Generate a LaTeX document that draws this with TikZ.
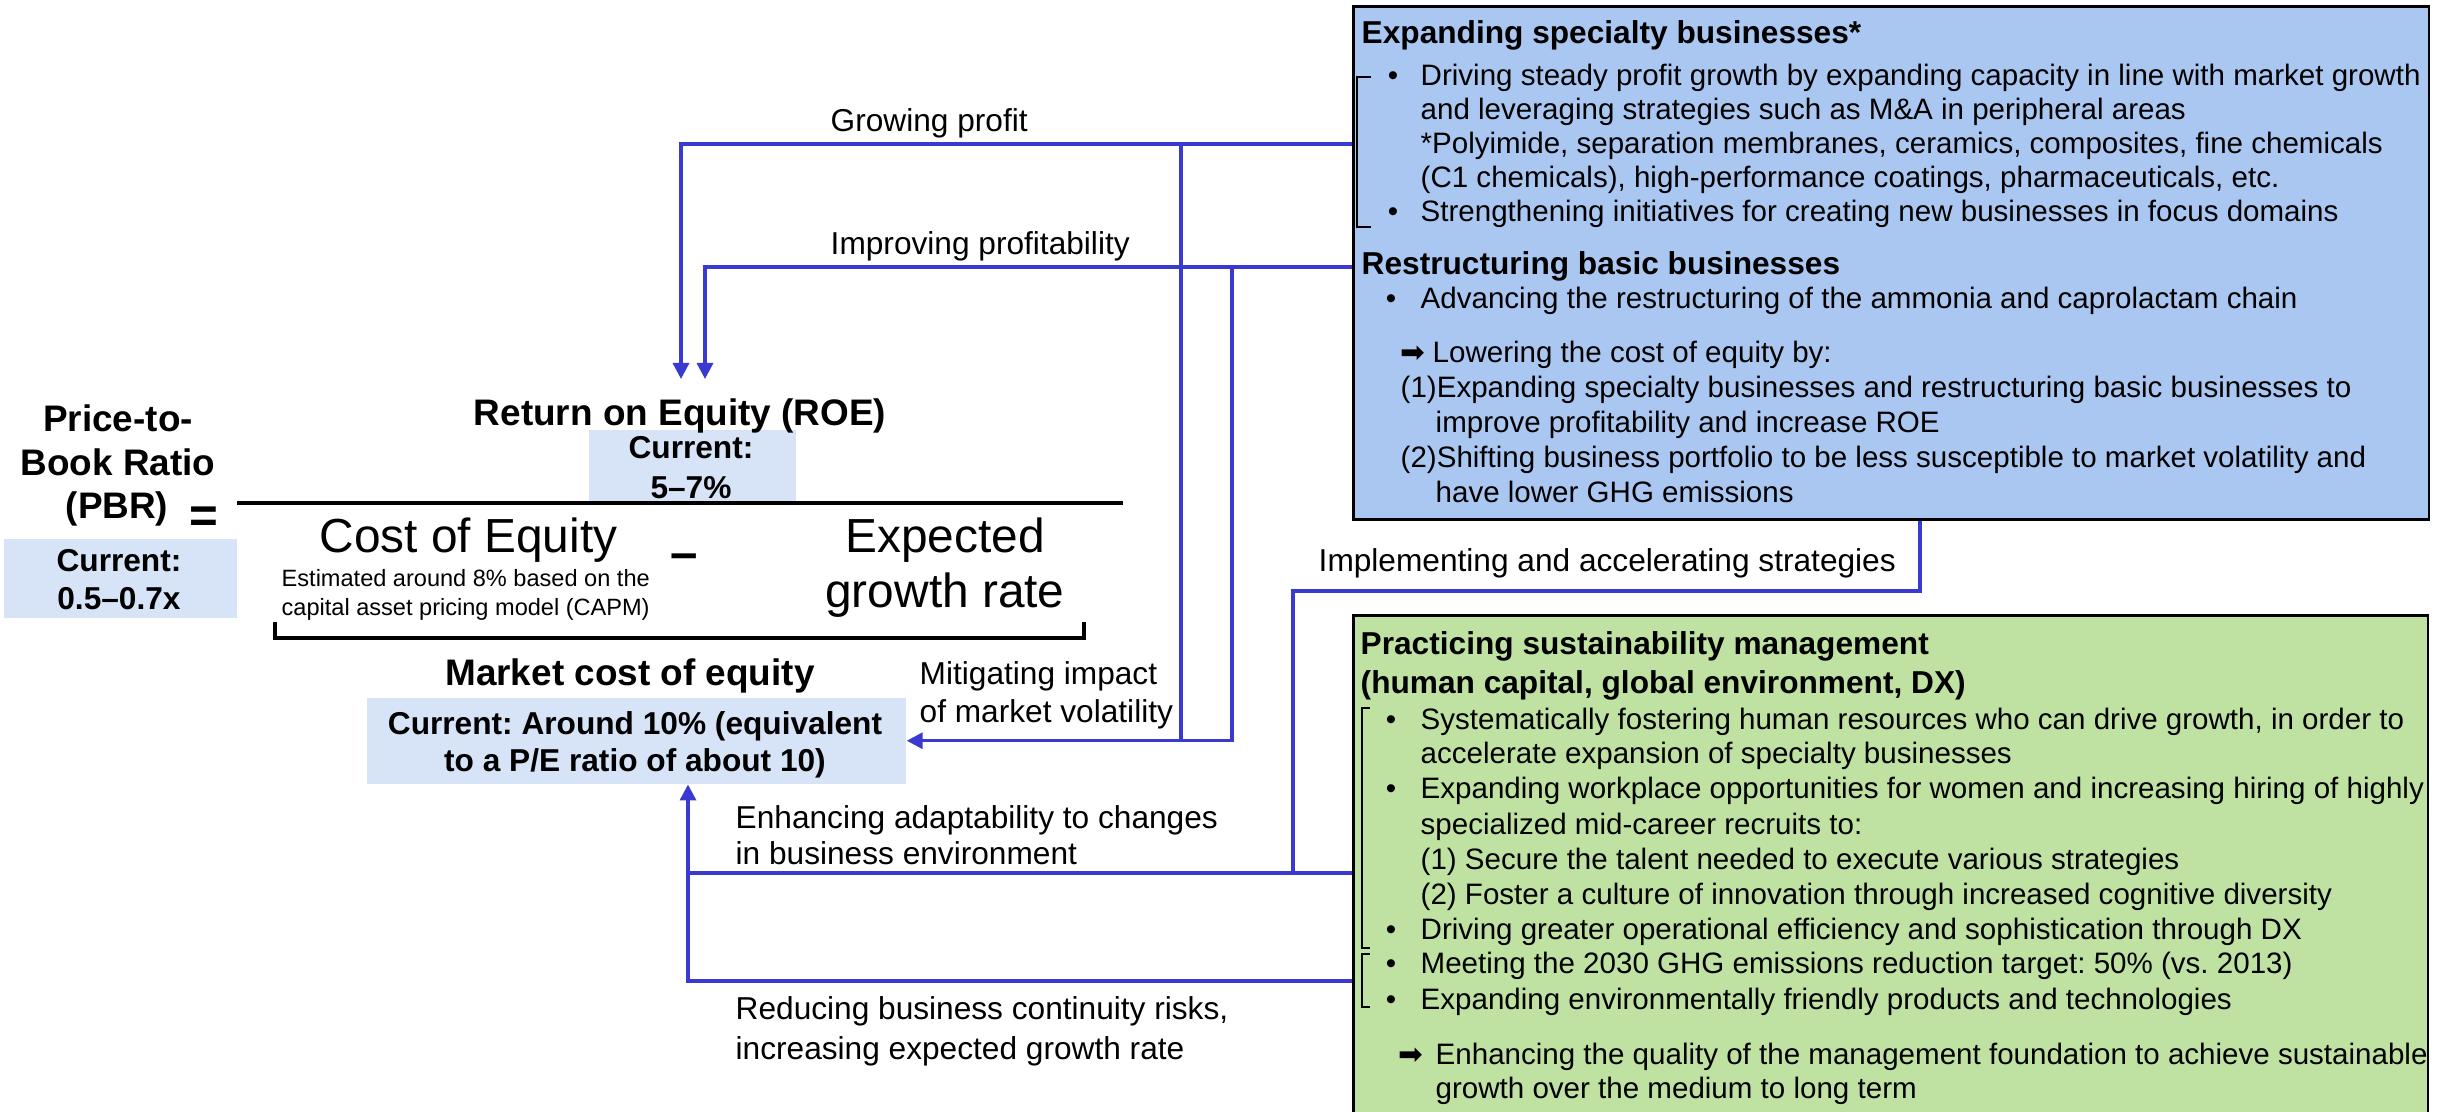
\documentclass[tikz,border=0pt]{standalone}
\usepackage{fontspec}
\setmainfont{Liberation Sans}
\newfontfamily\dejavu{DejaVu Sans}
\usetikzlibrary{arrows.meta,calc}
\definecolor{conncol}{RGB}{58,58,208}
\definecolor{boxblue}{RGB}{170,199,242}
\definecolor{boxgreen}{RGB}{191,226,163}
\definecolor{valblue}{RGB}{215,227,246}
\frenchspacing
\begin{document}
\begin{tikzpicture}[x=0.01cm,y=-0.01cm,
  body/.style={anchor=base west, inner sep=0pt, font=\fontsize{8.4}{9.8}\selectfont},
  ttl/.style={anchor=base west, inner sep=0pt, font=\fontsize{9}{10.8}\selectfont\bfseries},
  lbl/.style={anchor=base west, inner sep=0pt, font=\fontsize{9}{10.8}\selectfont},
  bigtxt/.style={inner sep=0pt, font=\fontsize{13.6}{16}\selectfont},
  smalltxt/.style={anchor=base west, inner sep=0pt, font=\fontsize{6.7}{8}\selectfont},
  headtxt/.style={anchor=base, inner sep=0pt, font=\fontsize{10.5}{12.5}\selectfont\bfseries},
  valtxt/.style={anchor=base, inner sep=0pt, font=\fontsize{9}{10.8}\selectfont\bfseries},
  valbox/.style={fill=valblue, draw=none, anchor=north west, inner sep=0pt},
  bigbox/.style={draw=black, line width=0.8pt, anchor=north west, inner sep=0pt},
  connline/.style={draw=conncol, line width=0.95pt},
  arr/.style={connline, -{Triangle[length=0.16cm,width=0.16cm]}},
  brk/.style={draw=black, line width=0.5pt},
  dotb/.style={anchor=base, inner sep=0pt, font=\fontsize{8.4}{9.8}\selectfont},
  arrglyph/.style={anchor=base west, inner sep=0pt, font=\fontsize{8.4}{9.8}\dejavu},
]
\useasboundingbox (0,0) rectangle (2438,1112);

% ---------- boxes ----------
\node[bigbox, fill=boxblue, minimum width=10.75cm, minimum height=5.13cm] (bluebox) at (1352,5) {};
\node[bigbox, fill=boxgreen, minimum width=10.74cm, minimum height=5.2cm] (greenbox) at (1352,614) {};
\node[valbox, minimum width=2.33cm, minimum height=0.79cm] (pbrbox) at (3,538) {};
\node[valbox, minimum width=2.07cm, minimum height=0.72cm] (roebox) at (588,429) {};
\node[valbox, minimum width=5.39cm, minimum height=0.86cm] (mkt) at (366,697) {};

% ---------- blue box text ----------
\node[ttl] (b1) at (1361,44) {Expanding specialty businesses*};
\draw[brk] (1371,77) -- (1357,77) -- (1357,227) -- (1371,227);
\node[dotb] (bd1) at (1393,85) {•};
\node[body] (b2) at (1420,85) {Driving steady profit growth by expanding capacity in line with market growth};
\node[body] (b3) at (1420,119) {and leveraging strategies such as M\&A in peripheral areas};
\node[body] (b4) at (1420,153) {*Polyimide, separation membranes, ceramics, composites, fine chemicals};
\node[body] (b5) at (1420,187) {(C1 chemicals), high-performance coatings, pharmaceuticals, etc.};
\node[dotb] (bd2) at (1393,221) {•};
\node[body] (b6) at (1420,221) {Strengthening initiatives for creating new businesses in focus domains};
\node[ttl] (b7) at (1361,274) {Restructuring basic businesses};
\node[dotb] (bd3) at (1391,308) {•};
\node[body] (b8) at (1420,308) {Advancing the restructuring of the ammonia and caprolactam chain};
\node[arrglyph] (ba1) at (1400,362) {➡};
\node[body] (b9) at (1432,362) {Lowering the cost of equity by:};
\node[body] (b10) at (1400,397) {(1)Expanding specialty businesses and restructuring basic businesses to};
\node[body] (b11) at (1435,432) {improve profitability and increase ROE};
\node[body] (b12) at (1400,467) {(2)Shifting business portfolio to be less susceptible to market volatility and};
\node[body] (b13) at (1435,502) {have lower GHG emissions};

% ---------- green box text ----------
\node[ttl] (g1) at (1360,654) {Practicing sustainability management};
\node[ttl] (g2) at (1360,693) {(human capital, global environment, DX)};
\draw[brk] (1370,708) -- (1362,708) -- (1362,948) -- (1370,948);
\draw[brk] (1370,954) -- (1362,954) -- (1362,1007) -- (1370,1007);
\node[dotb] (gd1) at (1391,729) {•};
\node[body] (g3) at (1420,729) {Systematically fostering human resources who can drive growth, in order to};
\node[body] (g4) at (1420,763) {accelerate expansion of specialty businesses};
\node[dotb] (gd2) at (1391,798) {•};
\node[body] (g5) at (1420,798) {Expanding workplace opportunities for women and increasing hiring of highly};
\node[body] (g6) at (1420,834) {specialized mid-career recruits to:};
\node[body] (g7) at (1420,869) {(1) Secure the talent needed to execute various strategies};
\node[body] (g8) at (1420,904) {(2) Foster a culture of innovation through increased cognitive diversity};
\node[dotb] (gd3) at (1391,939) {•};
\node[body] (g9) at (1420,939) {Driving greater operational efficiency and sophistication through DX};
\node[dotb] (gd4) at (1391,973) {•};
\node[body] (g10) at (1420,973) {Meeting the 2030 GHG emissions reduction target: 50\% (vs. 2013)};
\node[dotb] (gd5) at (1391,1009) {•};
\node[body] (g11) at (1420,1009) {Expanding environmentally friendly products and technologies};
\node[arrglyph] (ga1) at (1398,1064) {➡};
\node[body] (g12) at (1435,1064) {Enhancing the quality of the management foundation to achieve sustainable};
\node[body] (g13) at (1435,1098) {growth over the medium to long term};

% ---------- formula ----------
\node[headtxt] (pbr1) at (118,431) {Price-to-};
\node[headtxt] (pbr2) at (118,475) {Book Ratio};
\node[headtxt] (pbr3) at (117,518) {(PBR)};
\node[inner sep=0pt, font=\fontsize{14}{16}\selectfont\bfseries] (eq) at (204,520) {=};
\node[valtxt] (pbrv1) at (119,571) {Current:};
\node[valtxt] (pbrv2) at (119,609) {0.5–0.7x};

\node[headtxt] (roe) at (680,425) {Return on Equity (ROE)};
\node[valtxt] (roev1) at (691,458) {Current:};
\node[valtxt] (roev2) at (691,498) {5–7\%};
\draw[line width=1.2pt] (237,503) -- (1123,503);

\node[bigtxt, anchor=base west] (coe) at (319,552) {Cost of Equity};
\node[smalltxt] (coe1) at (281,586) {Estimated around 8\% based on the};
\node[smalltxt] (coe2) at (281,615) {capital asset pricing model (CAPM)};
\node[inner sep=0pt, font=\fontsize{14}{16}\selectfont\bfseries] (minus) at (684,562) {–};
\node[bigtxt, anchor=base] (egr1) at (945,552) {Expected};
\node[bigtxt, anchor=base] (egr2) at (945,607) {growth rate};
\draw[line width=0.9pt] (275,622) -- (275,638) -- (1084,638) -- (1084,622);

\node[headtxt] (mkth) at (630,685) {Market cost of equity};
\node[valtxt] (mktv1) at (635,734) {Current: Around 10\% (equivalent};
\node[valtxt] (mktv2) at (635,771) {to a P/E ratio of about 10)};

% ---------- connector labels ----------
\node[lbl] (l1) at (830,131) {Growing profit};
\node[lbl] (l2) at (830,254) {Improving profitability};
\node[lbl] (l3) at (919,684) {Mitigating impact};
\node[lbl] (l4) at (919,722) {of market volatility};
\node[lbl] (l5) at (1318,571) {Implementing and accelerating strategies};
\node[lbl] (l6) at (735,828) {Enhancing adaptability to changes};
\node[lbl] (l7) at (735,864) {in business environment};
\node[lbl] (l8) at (735,1019) {Reducing business continuity risks,};
\node[lbl] (l9) at (735,1059) {increasing expected growth rate};

% ---------- connectors ----------
\coordinate (gpY) at (0,144);
\coordinate (ipY) at (0,267);
\coordinate (roeA) at (681,379);
\coordinate (roeB) at (705,379);
\coordinate (br1) at (1181,144);
\coordinate (br2) at (1232,267);
\coordinate (impX) at (1920,0);
\coordinate (imp1) at (1293,591);
\coordinate (envY) at (0,873);
\coordinate (riskY) at (0,981);
\coordinate (upX) at (688,0);

\draw[arr] (bluebox.west |- gpY) -| (roeA);
\draw[arr] (bluebox.west |- ipY) -| (roeB);
\draw[connline] (br1) -- (br1 |- mkt.east);
\draw[arr] (br2) |- (mkt.east);
\draw[connline] (bluebox.south -| impX) |- (imp1) -- (imp1 |- envY);
\draw[arr] (greenbox.west |- envY) -| (mkt.south -| upX);
\draw[connline] (greenbox.west |- riskY) -| (upX |- envY);
\end{tikzpicture}
\end{document}
